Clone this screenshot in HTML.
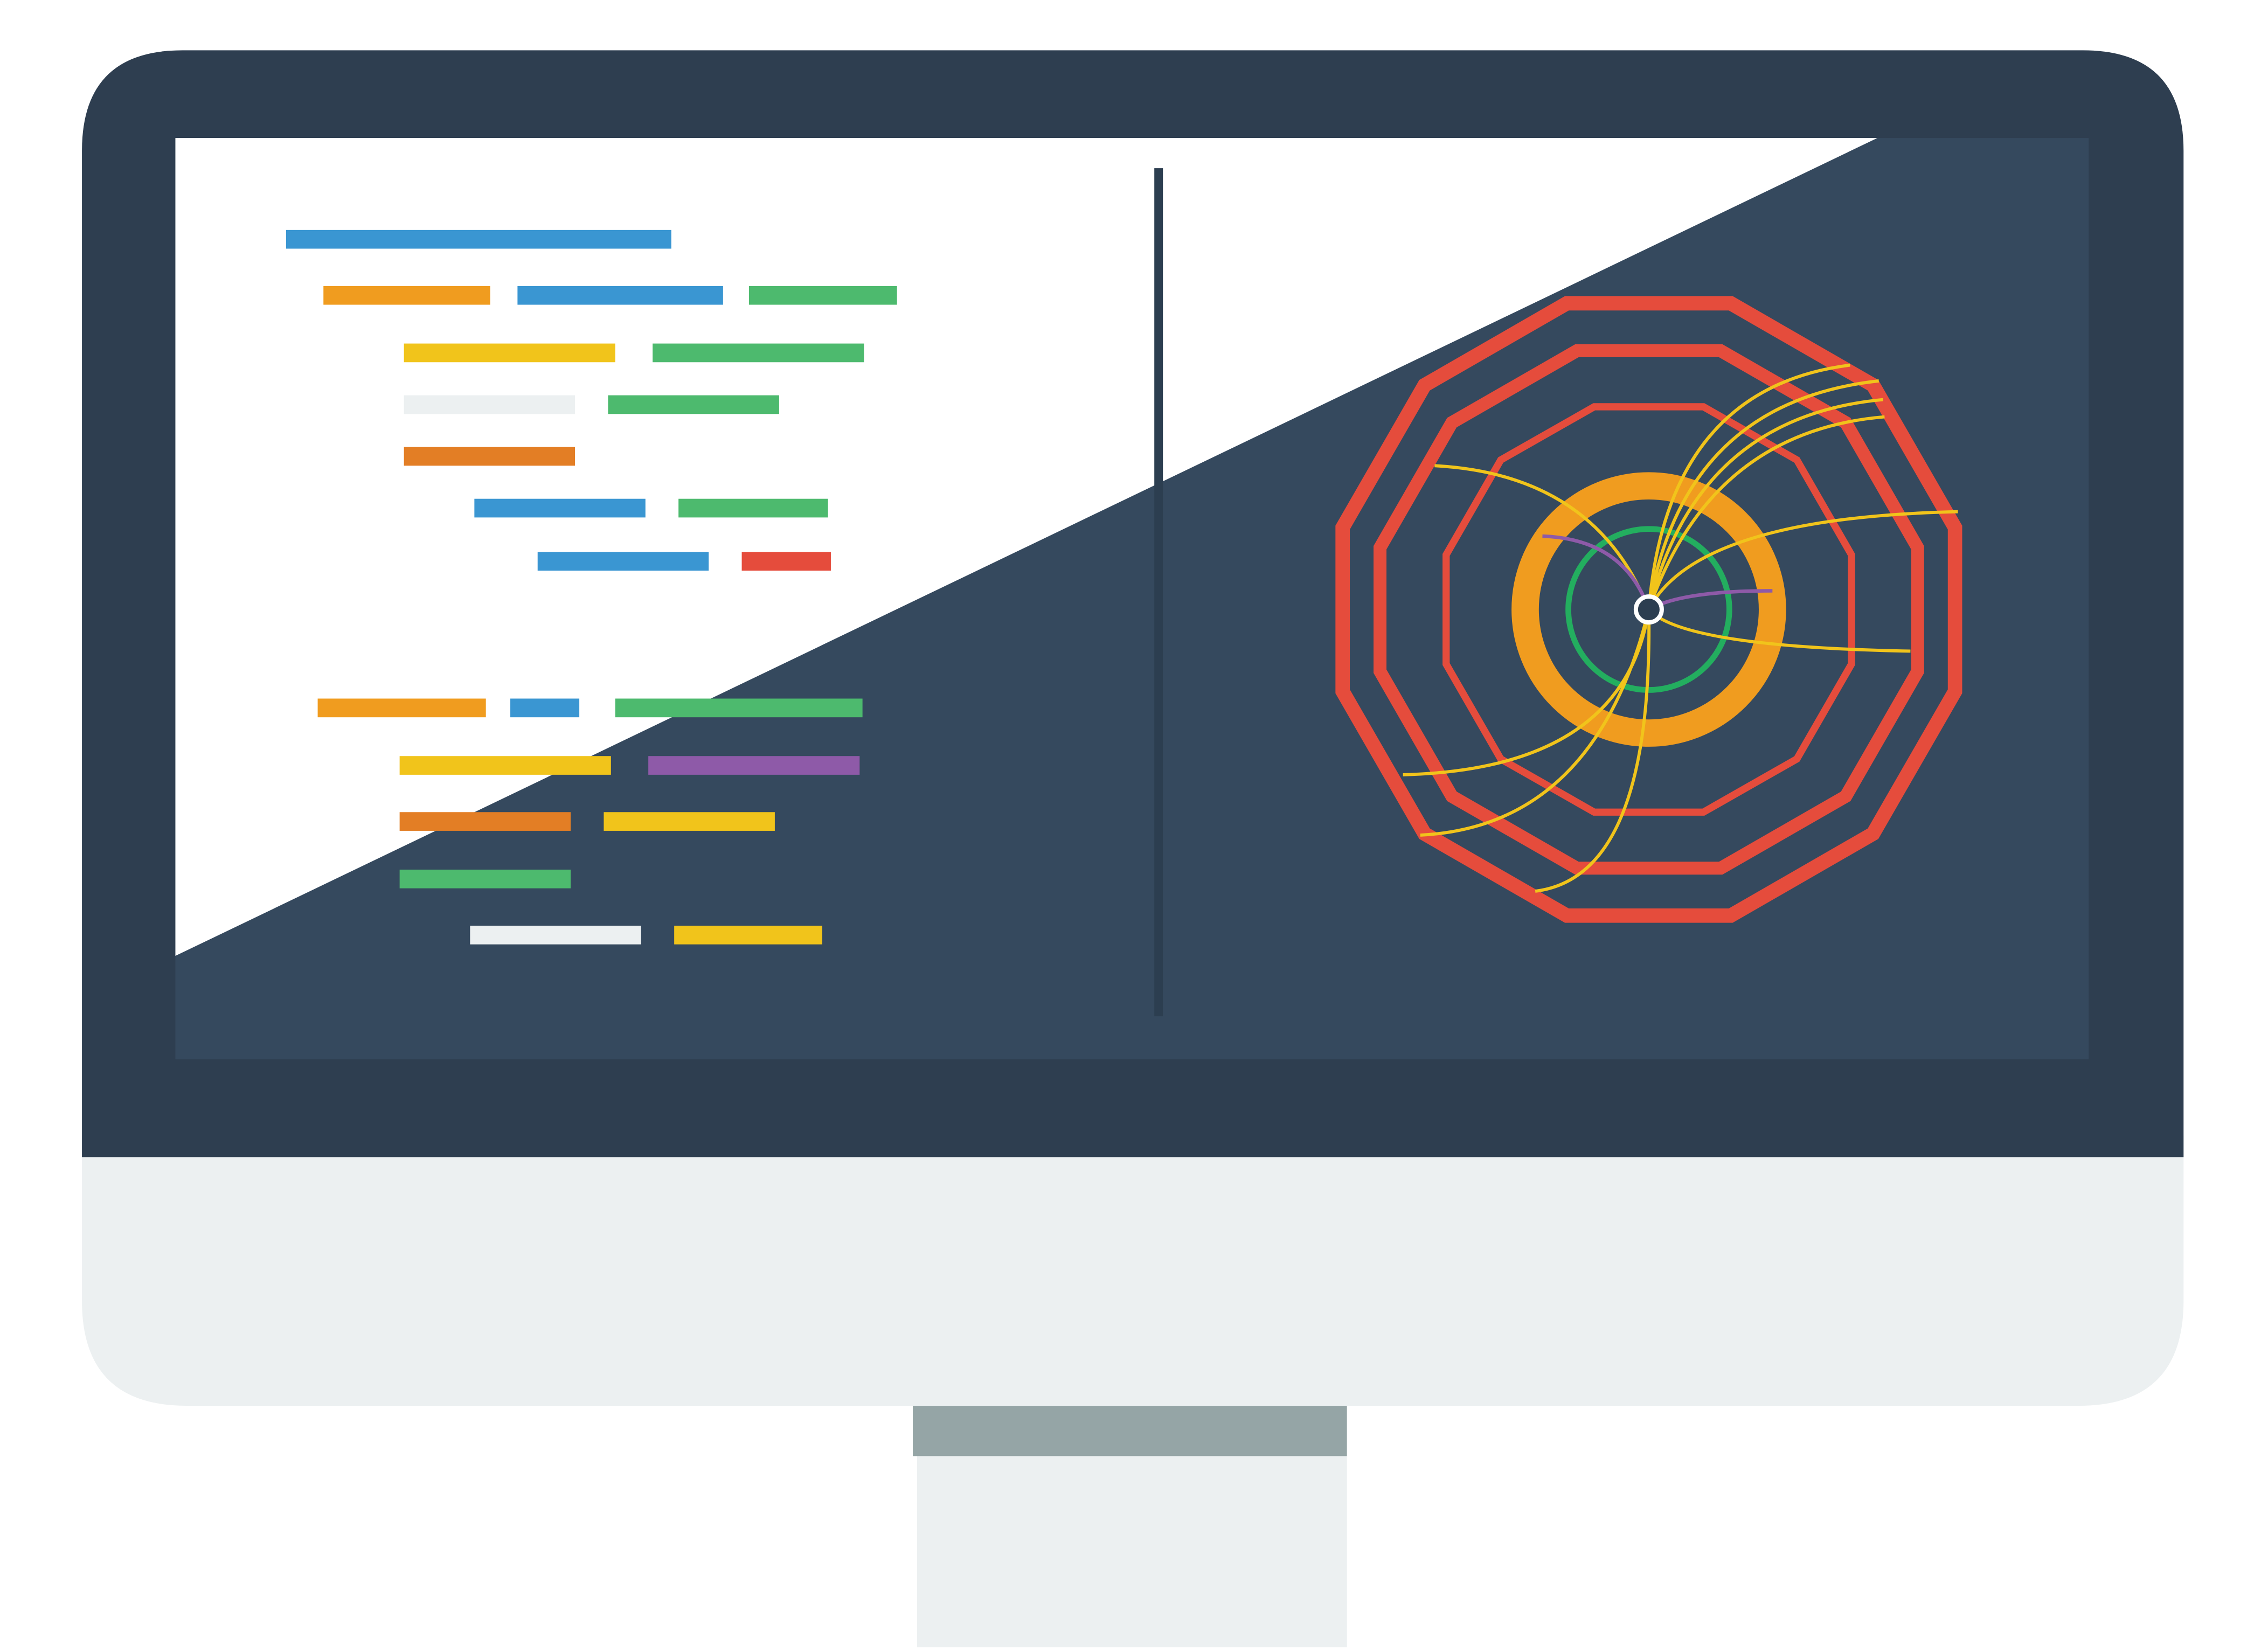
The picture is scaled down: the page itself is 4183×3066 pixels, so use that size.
<!DOCTYPE html>
<html><head><style>html,body{margin:0;padding:0;background:#fff}svg{display:block}</style></head>
<body>
<svg width="4183" height="3066" viewBox="0 0 1568 1149.3" preserveAspectRatio="none" xmlns="http://www.w3.org/2000/svg">
<rect x="0" y="0" width="1568" height="1150" fill="#fff"/>
<!-- stand -->
<rect x="638" y="1010" width="299" height="136" fill="#ecf0f1"/>
<rect x="635" y="978" width="302" height="35" fill="#95a5a6"/>
<!-- chin -->
<path d="M57 790 H1519 V905 Q1519 978 1446 978 H130 Q57 978 57 905 Z" fill="#ecf0f1"/>
<!-- bezel -->
<path d="M57 805 V105 Q57 35 127 35 H1449 Q1519 35 1519 105 V805 Z" fill="#2e3e50"/>
<!-- screen -->
<rect x="122" y="96" width="1331" height="641" fill="#35495e"/>
<polygon points="122,96 1306,96 122,665" fill="#fff"/>
<rect x="803" y="117" width="6" height="590" fill="#2c3e50"/>
<!-- code bars -->
<g>
<rect x="199" y="160" width="268" height="13" fill="#3a96d2"/>
<rect x="225" y="199" width="116" height="13" fill="#f09c1f"/>
<rect x="360" y="199" width="143" height="13" fill="#3a96d2"/>
<rect x="521" y="199" width="103" height="13" fill="#4dba6e"/>
<rect x="281" y="239" width="147" height="13" fill="#f1c41b"/>
<rect x="454" y="239" width="147" height="13" fill="#4dba6e"/>
<rect x="281" y="275" width="119" height="13" fill="#ecf0f1"/>
<rect x="423" y="275" width="119" height="13" fill="#4dba6e"/>
<rect x="281" y="311" width="119" height="13" fill="#e37e25"/>
<rect x="330" y="347" width="119" height="13" fill="#3a96d2"/>
<rect x="472" y="347" width="104" height="13" fill="#4dba6e"/>
<rect x="374" y="384" width="119" height="13" fill="#3a96d2"/>
<rect x="516" y="384" width="62" height="13" fill="#e54c3c"/>
<rect x="221" y="486" width="117" height="13" fill="#f09c1f"/>
<rect x="355" y="486" width="48" height="13" fill="#3a96d2"/>
<rect x="428" y="486" width="172" height="13" fill="#4dba6e"/>
<rect x="278" y="526" width="147" height="13" fill="#f1c41b"/>
<rect x="451" y="526" width="147" height="13" fill="#8e5aa8"/>
<rect x="278" y="565" width="119" height="13" fill="#e37e25"/>
<rect x="420" y="565" width="119" height="13" fill="#f1c41b"/>
<rect x="278" y="605" width="119" height="13" fill="#4dba6e"/>
<rect x="327" y="644" width="119" height="13" fill="#ecf0f1"/>
<rect x="469" y="644" width="103" height="13" fill="#f1c41b"/>
</g>
<!-- dodecagons centred 1147,424 -->
<g fill="none" stroke="#e54c3c" stroke-linejoin="miter">
<polygon stroke-width="10" points="1090,211 1204,211 1303,268 1360,367 1360,481 1303,580 1204,637 1090,637 991,580 934,481 934,367 991,268"/>
<polygon stroke-width="9" points="1097,244 1197,244 1284,294 1334,381 1334,467 1284,554 1197,604 1097,604 1010,554 960,467 960,381 1010,294"/>
<polygon stroke-width="5" points="1109,283 1185,283 1250,320 1288,386 1288,462 1250,528 1185,565 1109,565 1044,528 1006,462 1006,386 1044,320"/>
</g>
<circle cx="1147" cy="424" r="86" fill="none" stroke="#f09c1f" stroke-width="19"/>
<circle cx="1147" cy="424" r="56" fill="none" stroke="#23ae5f" stroke-width="4"/>
<g fill="none" stroke="#f1c41b" stroke-width="2.2">
<path d="M1147 424 Q1160 270 1287 254"/>
<path d="M1147 424 Q1170 280 1307 265"/>
<path d="M1147 424 Q1180 290 1310 278"/>
<path d="M1147 424 Q1190 300 1311 290"/>
<path d="M1147 424 Q1110 330 998 324"/>
<path d="M1147 424 Q1180 360 1362 356"/>
<path d="M1147 424 Q1170 450 1329 453"/>
<path d="M1147 424 Q1130 535 976 539"/>
<path d="M1147 424 Q1110 575 988 581"/>
<path d="M1147 424 Q1150 610 1068 620"/>
</g>
<g fill="none" stroke="#8e5aa8" stroke-width="2.5">
<path d="M1147 424 Q1130 375 1073 373"/>
<path d="M1147 424 Q1170 411 1233 411"/>
</g>
<circle cx="1147" cy="424" r="9" fill="#2c3e50" stroke="#fff" stroke-width="3"/>
</svg>
</body></html>
